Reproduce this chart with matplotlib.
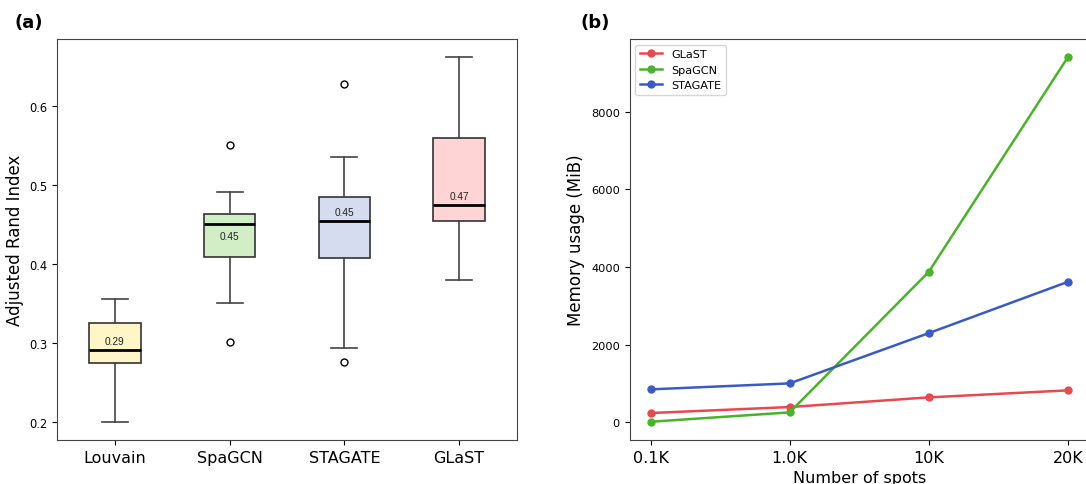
import matplotlib
matplotlib.use("Agg")
import matplotlib.pyplot as plt

# panel (a): box statistics
methods = ["Louvain", "SpaGCN", "STAGATE", "GLaST"]
whis_lo = [0.200, 0.351, 0.293, 0.380]
q1 = [0.274, 0.409, 0.407, 0.454]
med = [0.291, 0.451, 0.454, 0.475]
q3 = [0.325, 0.463, 0.485, 0.560]
whis_hi = [0.356, 0.491, 0.535, 0.662]
fliers = [[], [0.551, 0.301], [0.628, 0.276], []]
med_labels = ["0.29", "0.45", "0.45", "0.47"]
box_colors = ["#fff6c8", "#d2eec6", "#d6dcf0", "#ffd4d4"]

# panel (b): memory usage
spots = ["0.1K", "1.0K", "10K", "20K"]
mem_glast = [240, 394, 643, 823]
mem_spagcn = [15, 257, 3874, 9400]
mem_stagate = [849, 1003, 2297, 3617]

fig = plt.figure(figsize=(10.86, 4.85), dpi=100)
ax1 = fig.add_axes([57.5 / 1086, 44 / 485, 459 / 1086, 401 / 485])
ax2 = fig.add_axes([629.7 / 1086, 44 / 485, 459 / 1086, 401 / 485])

stats = []
for i in range(len(methods)):
    stats.append(dict(whislo=whis_lo[i], q1=q1[i], med=med[i], q3=q3[i],
                      whishi=whis_hi[i], fliers=fliers[i]))

bp = ax1.bxp(stats, positions=range(1, 5), widths=0.45, patch_artist=True,
             boxprops=dict(edgecolor="#333333", linewidth=1.2),
             whiskerprops=dict(color="#444444", linewidth=1.2),
             capprops=dict(color="#444444", linewidth=1.2),
             medianprops=dict(color="black", linewidth=2),
             flierprops=dict(marker="o", markerfacecolor="none",
                             markeredgecolor="black", markersize=5))
for patch, c in zip(bp["boxes"], box_colors):
    patch.set_facecolor(c)

for i, lab in enumerate(med_labels):
    if i == 1:
        ax1.annotate(lab, (i + 1, med[i]), xytext=(0, -9), textcoords="offset points",
                     ha="center", va="center", fontsize=7.3,
                     family="Liberation Sans", color="#222222")
    else:
        ax1.annotate(lab, (i + 1, med[i]), xytext=(0, 6.5), textcoords="offset points",
                     ha="center", va="center", fontsize=7.3,
                     family="Liberation Sans", color="#222222")

ax1.set_xticks(range(1, 5))
ax1.set_xticklabels(methods, fontsize=11.5)
ax1.set_yticks([0.2, 0.3, 0.4, 0.5, 0.6])
ax1.tick_params(axis="y", labelsize=8.3)
ax1.set_ylabel("Adjusted Rand Index", fontsize=12)

x = range(len(spots))
ax2.plot(x, mem_glast, "o-", color="#e8494f", lw=1.8, ms=5, label="GLaST")
ax2.plot(x, mem_spagcn, "o-", color="#4cb22b", lw=1.8, ms=5, label="SpaGCN")
ax2.plot(x, mem_stagate, "o-", color="#3a5bc4", lw=1.8, ms=5, label="STAGATE")
ax2.set_xticks(list(x))
ax2.set_xticklabels(spots, fontsize=11.5)
ax2.set_yticks([0, 2000, 4000, 6000, 8000])
ax2.tick_params(axis="y", labelsize=8.2)
ax2.set_xlabel("Number of spots", fontsize=11.5)
ax2.set_ylabel("Memory usage (MiB)", fontsize=12)
ax2.legend(loc="upper left", fontsize=8.1)

for ax in (ax1, ax2):
    for s in ax.spines.values():
        s.set_color("#444444")

fig.text(15 / 1086, 1 - 14 / 485, "(a)", fontsize=13, fontweight="bold", va="top")
fig.text(580 / 1086, 1 - 14 / 485, "(b)", fontsize=13, fontweight="bold", va="top")

fig.savefig("out.png", dpi=100)
